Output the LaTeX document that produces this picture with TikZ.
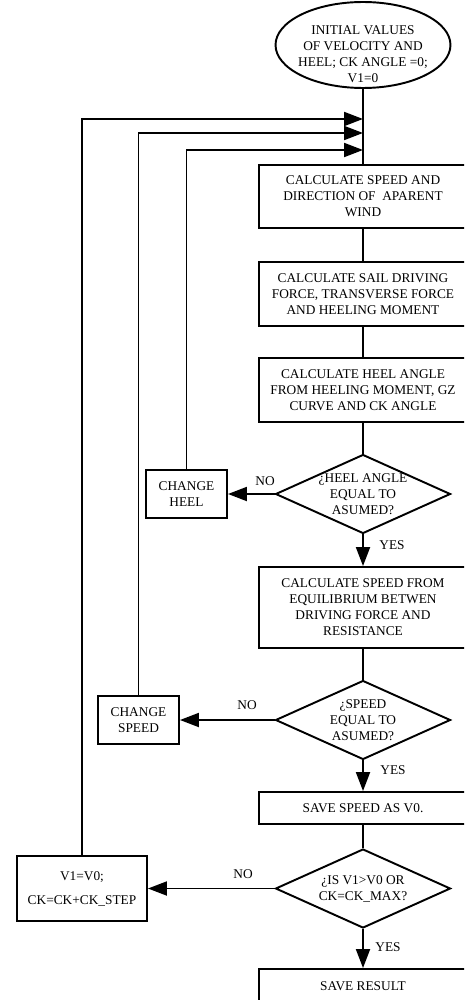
\documentclass[tikz,border=0pt]{standalone}
\usepackage{fontspec}
\setmainfont{Liberation Serif}
\usetikzlibrary{shapes.geometric,arrows.meta}

\begin{document}
\begin{tikzpicture}[x=0.02cm, y=-0.02cm, line width=1.1pt,
		every node/.style={font=\fontsize{7.6}{9.1}\selectfont, align=center},
		proc/.style={draw, rectangle, minimum width=4.16cm, inner sep=0pt},
		small/.style={draw, rectangle, minimum width=1.62cm, minimum height=0.96cm, inner sep=0pt},
		test/.style={draw, diamond, aspect=2.24, minimum width=3.5cm, minimum height=1.58cm, inner sep=-3pt},
		arr/.style={-{Triangle[length=0.38cm,width=0.28cm]}}]
		
		\clip (0,0) rectangle (464,1000);
		
		\node (s) at (363,45) [draw, ellipse, minimum width=3.5cm, minimum height=1.72cm, inner sep=0pt] {};
		\node (st) at (363,54) {INITIAL VALUES\\OF VELOCITY AND\\HEEL; CK ANGLE =0;\\V1=0};
		
		\node (b1) at (363,196.5) [proc, minimum height=1.26cm] {CALCULATE SPEED AND\\DIRECTION OF \ APARENT\\WIND};
		\node (b2) at (363,294) [proc, minimum height=1.28cm] {CALCULATE SAIL DRIVING\\FORCE, TRANSVERSE FORCE\\AND HEELING MOMENT};
		\node (b3) at (363,390) [proc, minimum height=1.28cm] {CALCULATE HEEL ANGLE\\FROM HEELING MOMENT, GZ\\CURVE AND CK ANGLE};
		\node (d1) at (363,494) [test] {¿HEEL ANGLE\\EQUAL TO\\ASUMED?};
		\node (h) at (186.5,494) [small] {CHANGE\\HEEL};
		\node (b4) at (363,607.5) [proc, minimum height=1.62cm] {CALCULATE SPEED FROM\\EQUILIBRIUM BETWEN\\DRIVING FORCE AND\\RESISTANCE};
		\node (d2) at (363,720) [test] {¿SPEED\\EQUAL TO\\ASUMED?};
		\node (v) at (138.5,720) [small] {CHANGE\\SPEED};
		\node (b5) at (363,808) [proc, minimum height=0.64cm] {SAVE SPEED AS V0.};
		\node (d3) at (363,888.5) [test] {¿IS V1>V0 OR\\CK=CK\_MAX?};
		\node (r) at (82,888.5) [small, minimum width=2.6cm, minimum height=1.3cm] {V1=V0;\\[4.5pt]CK=CK+CK\_STEP};
		\node (b6) at (363,986) [proc, minimum height=0.68cm] {SAVE RESULT};
		
		\coordinate (j1) at (363,119);
		\coordinate (j2) at (363,133);
		\coordinate (j3) at (363,150);
		
		\foreach \a/\b in {s/b1, b1/b2, b2/b3, b3/d1, b4/d2, b5/d3} {
			\draw (\a) -- (\b);
		}
		\foreach \a/\b in {d1/b4, d2/b5, d3/b6} {
			\draw[arr] (\a.south) -- (\b.north);
		}
		\foreach \a/\b in {d1/h, d2/v, d3/r} {
			\draw[arr] (\a.west) -- (\b.east);
		}
		\foreach \a/\b in {r/j1, v/j2, h/j3} {
			\draw[arr] (\a.north) |- (\b);
		}
		
		\node (n1) at (265,481) {NO};
		\node (n2) at (247,705) {NO};
		\node (n3) at (243,874) {NO};
		\node (y1) at (392,545) {YES};
		\node (y2) at (393,770) {YES};
		\node (y3) at (388,947) {YES};
		
	\end{tikzpicture}
\end{document}
